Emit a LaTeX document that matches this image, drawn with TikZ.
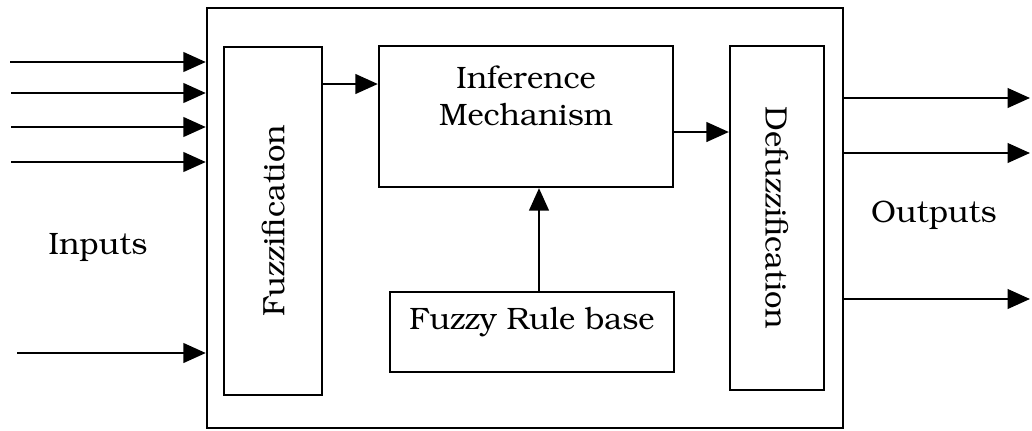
\documentclass[tikz,border=0pt]{standalone}
\usepackage[T1]{fontenc}
\usepackage{bookman}
\usepackage{tikz}
\usetikzlibrary{positioning, arrows.meta}

\tikzset{
  block/.style={draw, line width=1.6pt, inner sep=0pt},
  flow/.style={line width=1.6pt, -{Triangle[length=16pt, width=14pt]}},
}

\begin{document}
\begin{tikzpicture}[x=0.025cm, y=-0.025cm, font=\fontsize{22}{26}\selectfont]
  \useasboundingbox (0,0) rectangle (1032,430);

  % System frame
  \node[block, minimum width=15.9cm, minimum height=10.5cm] (sys) at (525,218) {};

  % Blocks
  \node[block, minimum width=2.45cm, minimum height=8.7cm] (fuzz) at (273,221) {};
  \node[rotate=90] (fuzzlbl) at (fuzz.center) {Fuzzification};

  \node[block, minimum width=7.35cm, minimum height=3.525cm] (inf) at (526,116.5) {};
  \node[align=center, below=0.4cm of inf.north] (inflbl) {Inference\\Mechanism};

  \node[block, minimum width=7.1cm, minimum height=2cm] (rule) at (532,332) {};
  \node (rulelbl) at ([yshift=0.25cm]rule.center) {Fuzzy Rule base};

  \node[block, minimum width=2.35cm, minimum height=8.6cm] (defuzz) at (777,218) {};
  \node[rotate=-90] (defuzzlbl) at (defuzz.center) {Defuzzification};

  % Texts
  \node (inlbl) at (98,247) {Inputs};
  \node (outlbl) at (934,215) {Outputs};

  % Inputs
  \coordinate (in1) at (10,62);
  \coordinate (in2) at (11,93);
  \coordinate (in3) at (11,127);
  \coordinate (in4) at (11,162);
  \coordinate (in5) at (17,353);
  \foreach \i in {1,...,5}
    \draw[flow] (in\i) -- (in\i -| sys.west);

  % Internal flow
  \coordinate (f2i) at (0,84);
  \coordinate (i2d) at (0,132);
  \coordinate (r2i) at (539,0);
  \draw[flow] (fuzz.east |- f2i) -- (inf.west |- f2i);
  \draw[flow] (inf.east |- i2d) -- (defuzz.west |- i2d);
  \draw[flow] (rule.north -| r2i) -- (inf.south -| r2i);

  % Outputs
  \coordinate (out1) at (1030,98);
  \coordinate (out2) at (1030,153);
  \coordinate (out3) at (1030,299);
  \foreach \i in {1,2,3}
    \draw[flow] (out\i -| sys.east) -- (out\i);
\end{tikzpicture}
\end{document}
